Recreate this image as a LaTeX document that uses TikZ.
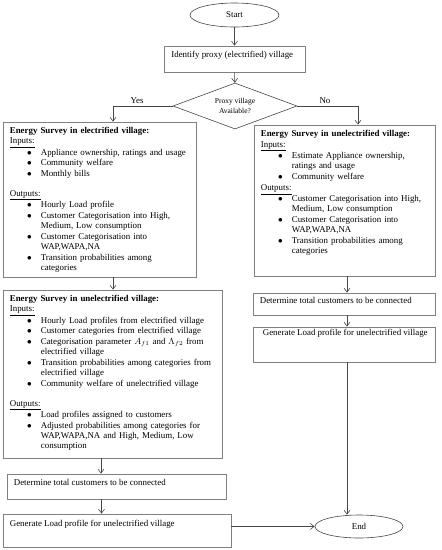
\documentclass[tikz,border=0pt]{standalone}
\usepackage{fontspec}
\setmainfont{Liberation Serif}
\usetikzlibrary{arrows.meta,positioning,shapes.geometric}
\definecolor{boxline}{RGB}{128,128,128}
\definecolor{flowline}{RGB}{70,70,70}
\newcommand{\boxfont}{\fontsize{8.9}{10.2}\selectfont}
\newenvironment{bulletlist}{\begin{list}{$\bullet$}{\setlength{\leftmargin}{31pt}%
  \setlength{\labelwidth}{10pt}\setlength{\labelsep}{9pt}\setlength{\itemsep}{0.6pt}%
  \setlength{\parsep}{0pt}\setlength{\topsep}{1pt}\setlength{\partopsep}{0pt}}}{\end{list}}

\begin{document}
\begin{tikzpicture}[x=1pt,y=-1pt,
    every node/.style={font=\boxfont},
    >={Straight Barb[length=4pt,width=6pt]},
    procbox/.style={draw=boxline, line width=0.7pt, rectangle, inner sep=0pt},
    terminal/.style={draw=flowline, line width=0.6pt, ellipse, inner sep=0pt},
    decision/.style={draw=flowline, line width=0.6pt, diamond, aspect=2.7, inner sep=0pt,
      minimum width=124pt, minimum height=46pt, align=center, font=\fontsize{7.5}{10}\selectfont},
    boxtext/.style={anchor=base west, inner sep=0pt, text width=#1, align=left},
    linetext/.style={anchor=base west, inner sep=0pt},
    flow/.style={->, draw=flowline, line width=0.6pt}]
    \useasboundingbox (0,0) rectangle (442,550);
    % Start and proxy village
    \node[terminal, minimum width=89pt, minimum height=24pt] (start) at (234.5,15) {Start};
    \node[procbox, minimum width=141pt, minimum height=26pt] (ident) at (234.5,59) {};
    \node[linetext] (identtxt) at ([xshift=7.5pt,yshift=-12pt]ident.north west)
      {Identify proxy (electrified) village};
    \node[decision] (proxy) at (235,106) {Proxy village\\Available?};
    \node[anchor=base] (yes) at (137,103.5) {Yes};
    \node[anchor=base] (no) at (325,103.5) {No};
    % Left column
    \node[procbox, minimum width=193pt, minimum height=155pt] (left1) at (99.5,199.5) {};
    \node[boxtext=183pt] (left1txt) at ([xshift=7pt,yshift=-12pt]left1.north west)
      {\textbf{Energy Survey in electrified village:}\par
      \underline{Inputs:}
      \begin{bulletlist}
      \item Appliance ownership, ratings and usage
      \item Community welfare
      \item Monthly bills
      \end{bulletlist}
      \vspace{8.5pt}
      \underline{Outputs:}
      \begin{bulletlist}
      \item Hourly Load profile
      \item Customer Categorisation into High,\newline Medium, Low consumption
      \item Customer Categorisation into\newline WAP,WAPA,NA
      \item Transition probabilities among\newline categories
      \end{bulletlist}};
    \node[procbox, minimum width=219pt, minimum height=168pt] (left2) at (112.5,374) {};
    \node[boxtext=210pt] (left2txt) at ([xshift=7pt,yshift=-12pt]left2.north west)
      {\textbf{Energy Survey in unelectrified village:}\par
      \underline{Inputs:}
      \begin{bulletlist}
      \item Hourly Load profiles from electrified village
      \item Customer categories from electrified village
      \item Categorisation parameter $A_{f1}$ and $\Lambda_{f2}$ from\newline electrified village
      \item Transition probabilities among categories from\newline electrified village
      \item Community welfare of unelectrified village
      \end{bulletlist}
      \vspace{8.5pt}
      \underline{Outputs:}
      \begin{bulletlist}
      \item Load profiles assigned to customers
      \item Adjusted probabilities among categories for\newline WAP,WAPA,NA and High, Medium, Low\newline consumption
      \end{bulletlist}};
    \node[procbox, minimum width=219pt, minimum height=25pt] (detL) at (116.5,486.5) {};
    \node[linetext] (detLtxt) at ([xshift=7pt,yshift=-11.7pt]detL.north west)
      {Determine total customers to be connected};
    \node[procbox, minimum width=228pt, minimum height=33pt] (genL) at (117,530.5) {};
    \node[linetext] (genLtxt) at ([xshift=7pt,yshift=-13.3pt]genL.north west)
      {Generate Load profile for unelectrified village};
    % Right column
    \node[procbox, minimum width=181pt, minimum height=151pt] (right1) at (344.5,200.5) {};
    \node[boxtext=172pt] (right1txt) at ([xshift=7pt,yshift=-12.3pt]right1.north west)
      {\textbf{Energy Survey in unelectrified village:}\par
      \underline{Inputs:}
      \begin{bulletlist}
      \item Estimate Appliance ownership,\newline ratings and usage
      \item Community welfare
      \end{bulletlist}
      \underline{Outputs:}
      \begin{bulletlist}
      \item Customer Categorisation into High,\newline Medium, Low consumption
      \item Customer Categorisation into\newline WAP,WAPA,NA
      \item Transition probabilities among\newline categories
      \end{bulletlist}};
    \node[procbox, minimum width=182pt, minimum height=22pt] (detR) at (344,304) {};
    \node[linetext] (detRtxt) at ([xshift=7pt,yshift=-10.7pt]detR.north west)
      {Determine total customers to be connected};
    \node[procbox, minimum width=182pt, minimum height=35pt] (genR) at (344,344.5) {};
    \node[linetext] (genRtxt) at ([xshift=10pt,yshift=-9.3pt]genR.north west)
      {Generate Load profile for unelectrified village};
    \node[terminal, minimum width=88pt, minimum height=23pt] (finish) at (359,526.5) {End};
    % Connectors
    \draw[flow] (start) -- (ident);
    \draw[flow] (ident) -- (proxy);
    \draw[flow] (proxy.west) -| ([xshift=13.5pt]left1.north);
    \draw[flow] (proxy.east) -| ([xshift=13.5pt]right1.north);
    \draw[flow] ([xshift=13.5pt]left1.south) -- ([xshift=13.5pt]left1.south |- left2.north);
    \draw[flow] ([xshift=-11.5pt]left2.south) -- ([xshift=-11.5pt]left2.south |- detL.north);
    \draw[flow] ([xshift=-15pt]detL.south) -- ([xshift=-15pt]detL.south |- genL.north);
    \draw[flow] (genL.east |- finish.west) -- (finish.west);
    \draw[flow] ([xshift=2.5pt]right1.south) -- ([xshift=2.5pt]right1.south |- detR.north);
    \draw[flow] ([xshift=3pt]detR.south) -- ([xshift=3pt]detR.south |- genR.north);
    \draw[flow] ([xshift=3pt]genR.south) -- ([xshift=3pt]genR.south |- finish.north);
\end{tikzpicture}
\end{document}
